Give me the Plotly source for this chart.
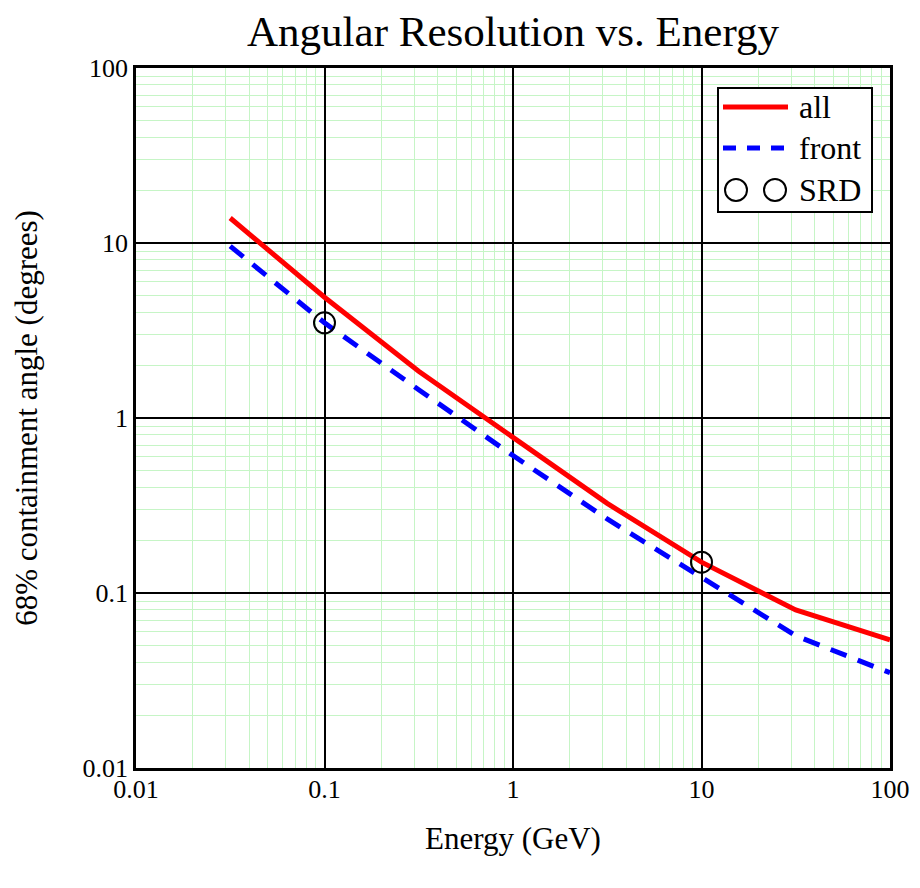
import plotly.graph_objects as go

# ---- data ----
energy = [0.0316, 0.1, 0.316, 1, 3.16, 10, 31.6, 100]
psf_all = [13.9, 4.9, 1.85, 0.77, 0.325, 0.15, 0.08, 0.054]
psf_front = [9.6, 3.5, 1.45, 0.61, 0.265, 0.122, 0.057, 0.035]
srd_energy = [0.1, 10]
srd_psf = [3.5, 0.15]

major_vals = [0.01, 0.1, 1, 10, 100]
major_text = ["0.01", "0.1", "1", "10", "100"]
minor_vals = [m * d for d in [0.01, 0.1, 1, 10] for m in range(2, 10)]

FONT = "Liberation Serif"

fig = go.Figure()
fig.add_trace(go.Scatter(x=energy, y=psf_all, mode="lines", name="all",
                         line=dict(color="#ff0000", width=5)))
fig.add_trace(go.Scatter(x=energy, y=psf_front, mode="lines", name="front",
                         line=dict(color="#0000ff", width=5, dash="17px,12px")))
fig.add_trace(go.Scatter(x=srd_energy, y=srd_psf, mode="markers", name="SRD",
                         marker=dict(symbol="circle-open", size=21, color="black",
                                     line=dict(width=2, color="black"))))

axis_common = dict(
    type="log",
    tickvals=major_vals, ticktext=major_text,
    showgrid=True, gridcolor="black", gridwidth=1.5,
    showline=True, linecolor="black", linewidth=2.5, mirror=True,
    ticks="", zeroline=False,
    tickfont=dict(family=FONT, size=26, color="black"),
    minor=dict(tickvals=minor_vals, showgrid=True, gridcolor="#c6f5c6", gridwidth=1, ticks=""),
    automargin=False,
)

fig.update_layout(
    width=920, height=888,
    margin=dict(l=136, r=30, t=68, b=120),
    paper_bgcolor="white", plot_bgcolor="white",
    showlegend=False,
    font=dict(family=FONT, color="black"),
    title=dict(text="Angular Resolution vs. Energy", x=0.5, xanchor="center", xref="paper",
               y=1 - 31 / 888, yanchor="middle", yref="container",
               font=dict(family=FONT, size=43, color="black")),
    xaxis=dict(range=[-2, 2],
               title=dict(text="Energy (GeV)", font=dict(family=FONT, size=31), standoff=25),
               ticklabelstandoff=-4,
               **axis_common),
    yaxis=dict(range=[-2, 2],
               title=dict(text="68% containment angle (degrees)", font=dict(family=FONT, size=31), standoff=36),
               **axis_common),
)

# ---- manual legend ----
def px2x(px):
    return (px - 136) / 754

def py2y(py):
    return (768 - py) / 700

fig.add_shape(type="rect", xref="paper", yref="paper",
              x0=px2x(718), x1=px2x(872), y0=py2y(212), y1=py2y(88),
              line=dict(color="black", width=2), fillcolor="white", layer="above")
fig.add_shape(type="line", xref="paper", yref="paper",
              x0=px2x(723), x1=px2x(788), y0=py2y(107), y1=py2y(107),
              line=dict(color="#ff0000", width=5), layer="above")
fig.add_shape(type="line", xref="paper", yref="paper",
              x0=px2x(723), x1=px2x(788), y0=py2y(148), y1=py2y(148),
              line=dict(color="#0000ff", width=5, dash="13px,11px"), layer="above")
for cx in [736, 775]:
    fig.add_shape(type="circle", xref="paper", yref="paper",
                  x0=px2x(cx - 11), x1=px2x(cx + 11), y0=py2y(190 + 11), y1=py2y(190 - 11),
                  line=dict(color="black", width=2), layer="above")
for label, py in [("all", 107), ("front", 148), ("SRD", 190)]:
    fig.add_annotation(text=label, xref="paper", yref="paper", x=px2x(797), y=py2y(py),
                       xanchor="left", yanchor="middle", showarrow=False,
                       font=dict(family=FONT, size=32, color="black"))

fig.write_html("out.html")
